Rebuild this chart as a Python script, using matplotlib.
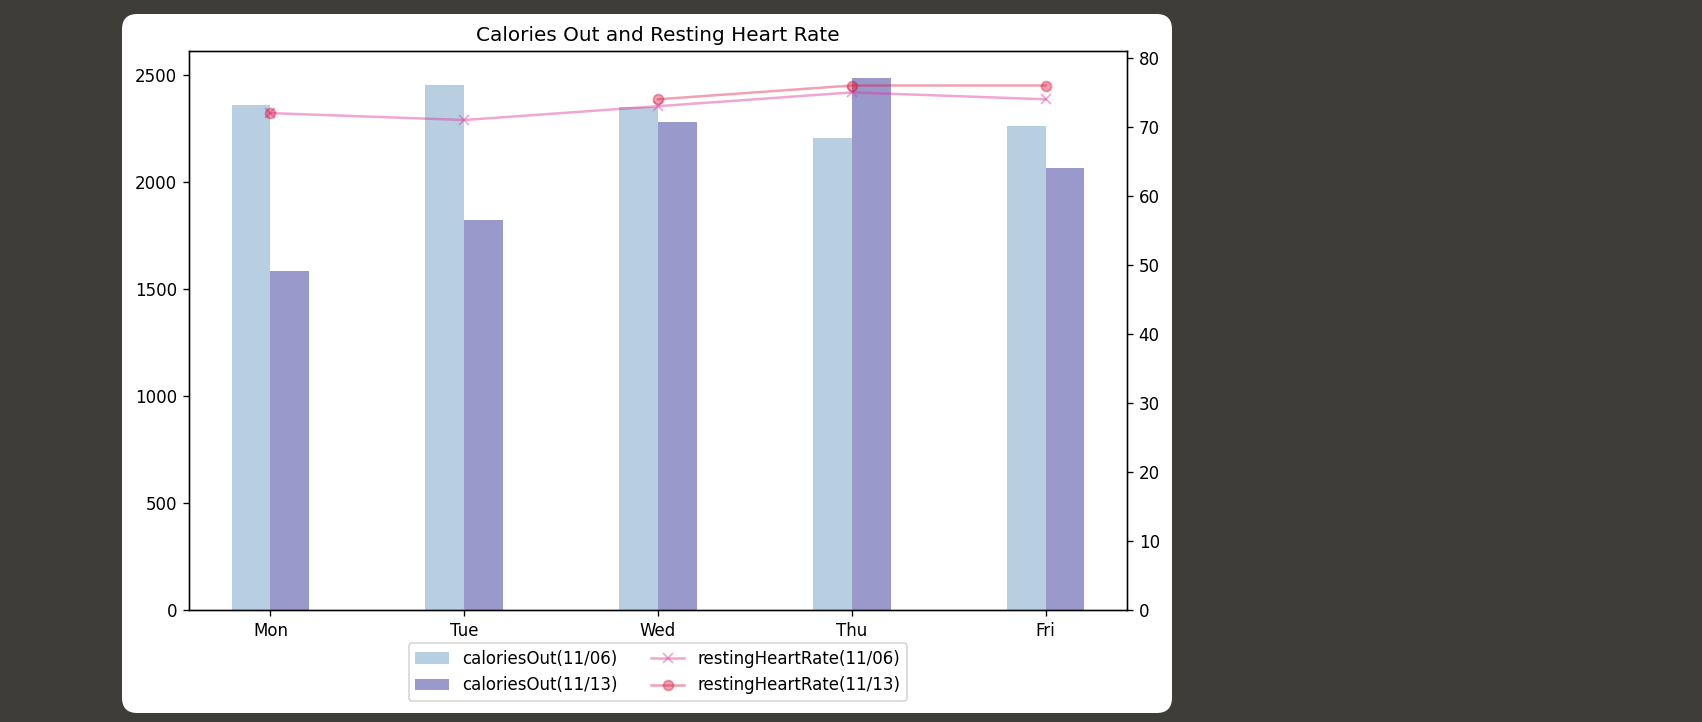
import numpy as np
import matplotlib
matplotlib.use("Agg")
import matplotlib.pyplot as plt
from matplotlib.patches import FancyBboxPatch

days = ["Mon", "Tue", "Wed", "Thu", "Fri"]
cal_1106 = [2358, 2454, 2348, 2206, 2262]
cal_1113 = [1582, 1820, 2282, 2487, 2064]
hr_1106 = [72, 71, 73, 75, 74]
hr_1113 = [72, np.nan, 74, 76, 76]

W, H = 1702, 722
DPI = 120
fig = plt.figure(figsize=(W / DPI, H / DPI), dpi=DPI)
fig.patch.set_facecolor("#3e3d39")

# white card
card = FancyBboxPatch((122 / W, (H - 713) / H), (1172 - 122) / W, (713 - 14) / H,
                      boxstyle="round,pad=0,rounding_size=0.009",
                      transform=fig.transFigure, facecolor="white",
                      edgecolor="none", mutation_aspect=W / H, zorder=-10)
fig.add_artist(card)

left, right, top, bottom = 189, 1127, 51, 610
ax = fig.add_axes([left / W, 1 - bottom / H, (right - left) / W, (bottom - top) / H])
ax.set_facecolor("white")

x = np.arange(len(days))
w = 0.2
b1 = ax.bar(x - w / 2, cal_1106, width=w, color="steelblue", alpha=0.38,
            label="caloriesOut(11/06)")
b2 = ax.bar(x + w / 2, cal_1113, width=w, color="navy", alpha=0.4,
            label="caloriesOut(11/13)")
ax.set_xticks(x)
ax.set_xticklabels(days)
ax.set_yticks([0, 500, 1000, 1500, 2000, 2500])

ax2 = ax.twinx()
l1, = ax2.plot(x, hr_1106, color="#e0389c", alpha=0.45, marker="x",
               label="restingHeartRate(11/06)")
l2, = ax2.plot(x, hr_1113, color="crimson", alpha=0.4, marker="o",
               label="restingHeartRate(11/13)")
ax2.set_ylim(0, 81)
ax2.set_yticks([0, 10, 20, 30, 40, 50, 60, 70, 80])

ax.set_title("Calories Out and Resting Heart Rate")

handles = [b1, b2, l1, l2]
labels = [h.get_label() for h in handles]
ax.legend(handles, labels, loc="upper center", bbox_to_anchor=(0.5, -0.045),
          ncol=2)

fig.savefig("out.png", dpi=DPI, facecolor=fig.get_facecolor())
